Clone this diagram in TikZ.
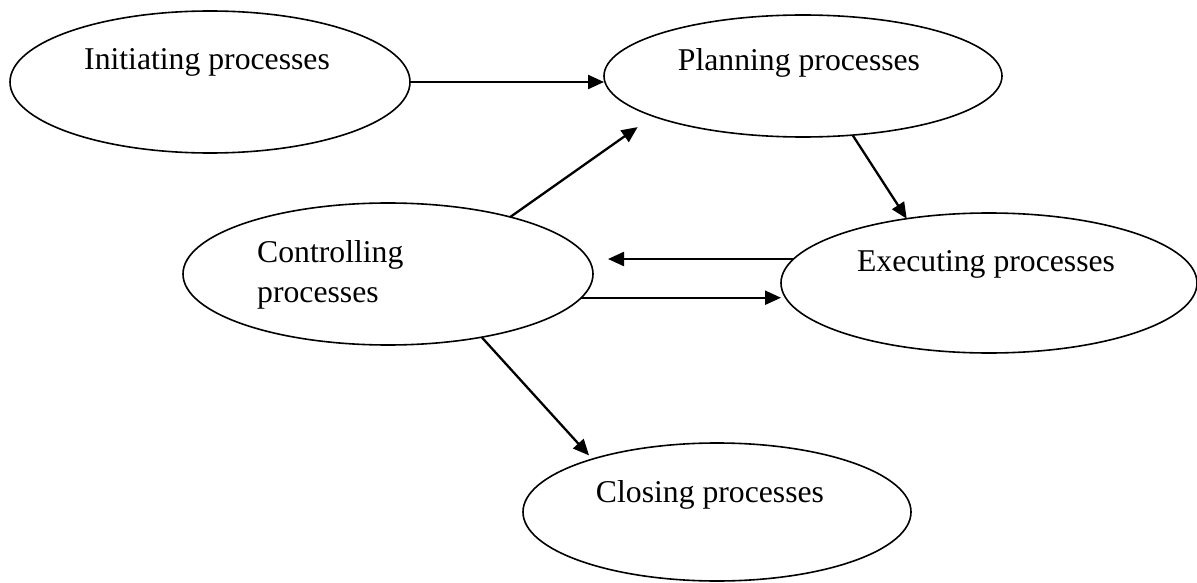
\documentclass[tikz,border=0pt]{standalone}
\usepackage{fontspec}
\setmainfont{Liberation Serif}
\usetikzlibrary{shapes.geometric,arrows.meta,calc}
\begin{document}
\begin{tikzpicture}[x=1pt,y=-1pt,
  proc/.style={ellipse,draw,line width=1.6pt,inner sep=0pt,outer sep=0pt},
  lbl/.style={inner sep=0pt,font=\fontsize{31.7}{40}\selectfont},
  arr/.style={line width=2.3pt,-{Triangle[length=16pt,width=14pt]}}]
\useasboundingbox (0,0) rectangle (1197,583);
\node[proc,minimum width=400pt,minimum height=142pt] (init) at (210,82) {};
\node[proc,minimum width=398pt,minimum height=122pt] (plan) at (803,76) {};
\node[proc,minimum width=410pt,minimum height=142pt] (ctrl) at (388,274) {};
\node[proc,minimum width=416pt,minimum height=140pt] (exec) at (989,283) {};
\node[proc,minimum width=388pt,minimum height=138pt] (close) at (717,512) {};
\node[lbl,anchor=base] (initT) at (207,70) {Initiating processes};
\node[lbl,anchor=base] (planT) at (799,71) {Planning processes};
\node[lbl,anchor=base] (execT) at (986,271) {Executing processes};
\node[lbl,anchor=base] (closeT) at (710,502) {Closing processes};
\node[lbl,anchor=west,align=left] (ctrlT) at (257,274.5) {Controlling\\processes};
\draw[arr] (init.east) -- (init.east -| plan.west);
\draw[arr,shorten >=19pt] (ctrl.25.8) -- (plan.195.9);
\draw[arr] (plan.310.8) -- (exec.142.6);
\draw[arr,shorten >=15pt] (exec.173.6) -- (exec.173.6 -| ctrl.east);
\draw[arr] (ctrl.353.2) -- (ctrl.353.2 -| exec.west);
\draw[arr,shorten >=5pt] (ctrl.326.2) -- (close.157.4);
\end{tikzpicture}
\end{document}
